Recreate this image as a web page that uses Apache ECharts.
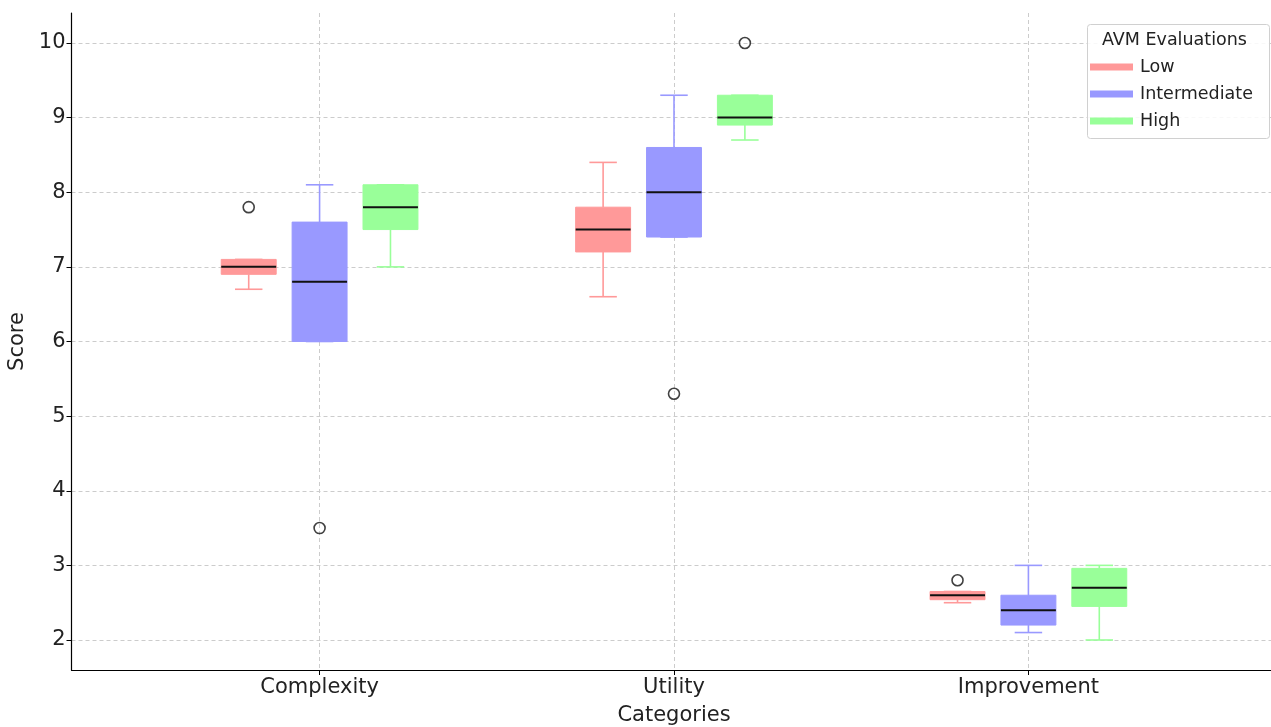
<!DOCTYPE html>
<html><head><meta charset="utf-8">
<script src="https://cdn.jsdelivr.net/npm/echarts@6/dist/echarts.min.js"></script>
<style>html,body{margin:0;padding:0;background:#fff}#c{width:1271px;height:727px}</style>
</head><body><div id="c"></div>
<script>
// Data
const categories = ['Complexity', 'Utility', 'Improvement'];
const seriesNames = ['Low', 'Intermediate', 'High'];
// [whiskerLow, q1, median, q3, whiskerHigh] per category
const lowStats = [[6.7, 6.9, 7.0, 7.1, 7.1], [6.6, 7.2, 7.5, 7.8, 8.4], [2.5, 2.54, 2.6, 2.65, 2.65]];
const intermediateStats = [[6.0, 6.0, 6.8, 7.6, 8.1], [7.4, 7.4, 8.0, 8.6, 9.3], [2.1, 2.2, 2.4, 2.6, 3.0]];
const highStats = [[7.0, 7.5, 7.8, 8.1, 8.1], [8.7, 8.9, 9.0, 9.3, 9.3], [2.0, 2.45, 2.7, 2.96, 3.0]];
// outliers: [categoryIndex, seriesIndex, value]
const outliers = [[0, 0, 7.8], [0, 1, 3.5], [1, 1, 5.3], [1, 2, 10.0], [2, 0, 2.8]];
const yTicks = [2, 3, 4, 5, 6, 7, 8, 9, 10];

const colors = ['#ff9999', '#9999ff', '#99ff99'];
const offsets = [-0.2, 0, 0.2];
const boxW = 0.155;
const allStats = [lowStats, intermediateStats, highStats];

function renderBox(params, api) {
  const x = api.value(0);
  const wl = api.value(1), q1 = api.value(2), med = api.value(3), q3 = api.value(4), wh = api.value(5);
  const col = colors[params.seriesIndex];
  const L = api.coord([x - boxW / 2, q3]);
  const R = api.coord([x + boxW / 2, q1]);
  const cL = api.coord([x - boxW / 4, wl])[0];
  const cR = api.coord([x + boxW / 4, wl])[0];
  const cx = api.coord([x, med])[0];
  const yWl = api.coord([x, wl])[1], yWh = api.coord([x, wh])[1];
  const yMed = api.coord([x, med])[1];
  const ls = { stroke: col, lineWidth: 1.6 };
  return {
    type: 'group',
    children: [
      { type: 'line', shape: { x1: cx, y1: L[1], x2: cx, y2: yWh }, style: ls },
      { type: 'line', shape: { x1: cx, y1: R[1], x2: cx, y2: yWl }, style: ls },
      { type: 'line', shape: { x1: cL, y1: yWh, x2: cR, y2: yWh }, style: ls },
      { type: 'line', shape: { x1: cL, y1: yWl, x2: cR, y2: yWl }, style: ls },
      { type: 'rect', shape: { x: L[0], y: L[1], width: R[0] - L[0], height: R[1] - L[1] }, style: { fill: col, stroke: col, lineWidth: 1 } },
      { type: 'line', shape: { x1: L[0], y1: yMed, x2: R[0], y2: yMed }, style: { stroke: '#111', lineWidth: 2 } }
    ]
  };
}

const series = seriesNames.map((name, si) => ({
  name: name,
  type: 'custom',
  renderItem: renderBox,
  itemStyle: { color: colors[si] },
  encode: { x: 0, y: [1, 2, 3, 4, 5] },
  data: allStats[si].map((s, ci) => [ci + 1 + offsets[si]].concat(s)),
  z: 3
}));
series.push({
  name: 'outliers',
  type: 'scatter',
  symbol: 'circle',
  symbolSize: 11,
  itemStyle: { color: 'rgba(0,0,0,0)', borderColor: '#111', borderWidth: 1.6 },
  data: outliers.map(o => [o[0] + 1 + offsets[o[1]], o[2]]),
  z: 4
});

const chart = echarts.init(document.getElementById('c'), null, { renderer: 'canvas' });
chart.setOption({
  animation: false,
  backgroundColor: '#fff',
  grid: { left: 71.5, top: 13, width: 1205, height: 657, outerBoundsMode: 'none', containLabel: false },
  xAxis: {
    type: 'value', min: 0.3, max: 3.7,
    name: 'Categories', nameLocation: 'middle', nameGap: 35,
    nameTextStyle: { fontFamily: 'DejaVu Sans', fontSize: 21, color: '#222' },
    axisLine: { show: true, lineStyle: { color: '#000', width: 1.2 } },
    axisTick: { show: true, length: 5, customValues: [1, 2, 3], lineStyle: { color: '#000' } },
    axisLabel: { customValues: [1, 2, 3], formatter: v => categories[Math.round(v) - 1] || '', fontFamily: 'DejaVu Sans', fontSize: 21, color: '#222', margin: 7 },
    splitLine: { show: true, lineStyle: { color: '#cccccc', type: [4, 3], width: 1 } }
  },
  yAxis: {
    type: 'value', min: 1.598, max: 10.402,
    name: 'Score', nameLocation: 'middle', nameGap: 38, nameRotate: 90,
    nameTextStyle: { fontFamily: 'DejaVu Sans', fontSize: 21, color: '#222' },
    axisLine: { show: true, lineStyle: { color: '#000', width: 1.2 } },
    axisTick: { show: true, length: 5, customValues: yTicks, lineStyle: { color: '#000' } },
    axisLabel: { customValues: yTicks, fontFamily: 'DejaVu Sans', fontSize: 21, color: '#222', margin: 6 },
    splitLine: { show: true, lineStyle: { color: '#cccccc', type: [4, 3], width: 1 } }
  },
  legend: {
    data: seriesNames,
    orient: 'vertical',
    left: 1085, top: 52,
    icon: 'rect',
    itemWidth: 43, itemHeight: 7,
    itemGap: 7,
    z: 12,
    textStyle: { fontFamily: 'DejaVu Sans', fontSize: 17.5, color: '#222', lineHeight: 20, padding: [0, 0, 0, 2] }
  },
  graphic: [
    { type: 'rect', left: 1087, top: 24, shape: { width: 182, height: 114, r: 3 }, style: { fill: 'rgba(255,255,255,0.85)', stroke: '#d0d0d0', lineWidth: 1 }, z: 10 },
    { type: 'text', left: 1102, top: 31, style: { text: 'AVM Evaluations', fontFamily: 'DejaVu Sans', fontSize: 17.5, fill: '#222' }, z: 11 }
  ],
  series: series
});
</script></body></html>
